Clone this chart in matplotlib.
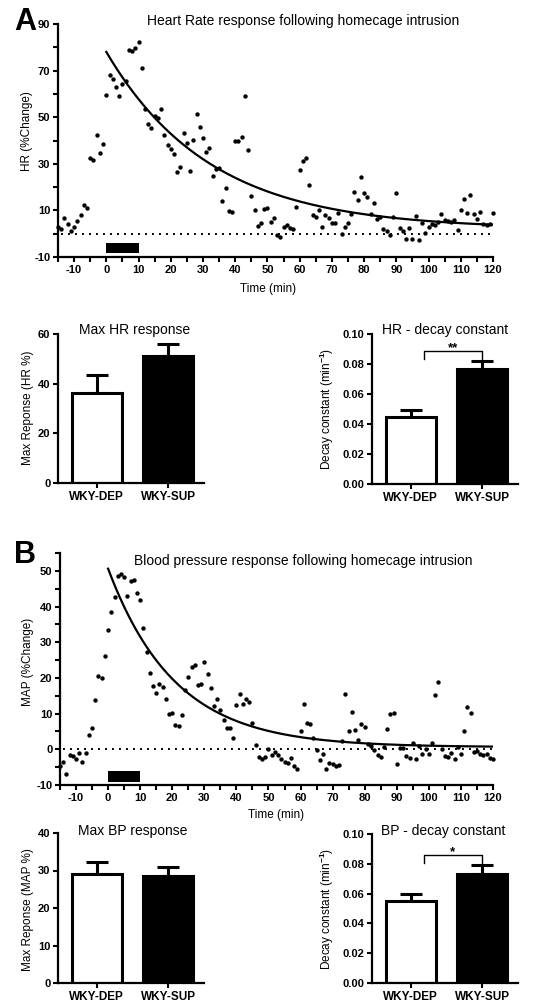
import numpy as np
import matplotlib
matplotlib.use('Agg')
import matplotlib.pyplot as plt
from matplotlib.ticker import MultipleLocator, FormatStrFormatter

plt.rcParams['font.family'] = ['Liberation Sans', 'DejaVu Sans']
plt.rcParams['font.weight'] = 'bold'
plt.rcParams['axes.unicode_minus'] = False
plt.rcParams['mathtext.fontset'] = 'custom'
plt.rcParams['mathtext.bf'] = 'Liberation Sans:bold'
plt.rcParams['mathtext.rm'] = 'Liberation Sans:bold'
plt.rcParams['mathtext.default'] = 'bf'

# time course, one sample per minute
time_min = np.arange(-15, 121)

hr_change = [2.9, 2.0, 6.8, 4.0, 1.3, 2.7, 5.3, 8.1, 12.4, 11.1, 32.4, 31.8, 42.3, 34.7, 38.6,
             59.4, 68.0, 66.5, 63.0, 59.1, 64.4, 65.4, 78.8, 78.5, 79.8, 82.4, 71.2, 53.6, 47.1, 45.4,
             50.4, 49.7, 53.5, 42.2, 38.2, 36.3, 34.2, 26.3, 28.8, 43.3, 39.0, 26.9, 40.4, 51.2, 46.0,
             40.9, 35.1, 36.7, 24.7, 27.8, 28.1, 14.1, 19.6, 9.8, 9.2, 39.9, 39.7, 41.3, 58.9, 36.0,
             16.3, 10.2, 3.5, 4.5, 10.4, 11.1, 5.0, 6.8, -0.7, -1.6, 2.9, 3.6, 2.6, 2.0, 11.4,
             27.3, 31.2, 32.4, 21.0, 7.9, 7.1, 10.1, 3.0, 8.2, 6.9, 4.7, 4.6, 8.8, -0.3, 2.9,
             4.5, 8.6, 17.7, 14.4, 24.5, 17.4, 15.8, 8.6, 13.1, 6.2, 7.3, 1.9, 1.0, -0.6, 7.2,
             17.3, 2.6, 1.3, -2.2, 2.6, -2.3, 7.6, -2.7, 4.5, 0.1, 3.0, 4.2, 3.6, 4.9, 8.6,
             5.9, 5.6, 4.9, 6.0, 1.4, 10.1, 14.7, 8.9, 16.5, 8.3, 6.5, 9.5, 4.3, 3.6, 4.2, 8.9]

map_change = [-4.7, -3.5, -6.9, -1.7, -1.9, -2.8, -0.9, -3.6, -1.0, 4.1, 6.0, 13.7, 20.5, 20.1, 26.1,
              33.5, 38.6, 42.6, 48.6, 49.1, 48.3, 42.9, 47.1, 47.5, 43.8, 41.8, 34.1, 27.3, 21.4, 17.7,
              15.8, 18.3, 17.5, 14.2, 10.0, 10.3, 6.9, 6.4, 9.5, 16.5, 20.2, 23.1, 23.5, 17.9, 18.3,
              24.6, 21.0, 17.1, 12.0, 14.1, 11.1, 8.1, 6.1, 6.1, 3.1, 12.3, 15.6, 12.7, 14.0, 13.3,
              7.5, 1.2, -2.2, -2.7, -2.2, 0.2, -1.7, -0.8, -1.7, -2.6, -3.5, -3.7, -2.3, -4.6, -5.6,
              5.0, 12.8, 7.3, 7.1, 3.2, -0.2, -3.0, -1.4, -5.4, -3.9, -4.2, -4.7, -4.4, 2.4, 15.6,
              5.2, 10.5, 5.4, 2.7, 7.1, 6.3, 1.5, 1.0, -0.1, -1.7, -2.2, 0.6, 5.7, 10.0, 10.3,
              -4.2, 0.5, 0.4, -1.8, -2.5, 1.7, -2.6, 0.8, -1.2, 0.1, -1.4, 1.9, 15.3, 18.9, 0.1,
              -1.8, -2.2, -0.9, -2.8, 0.6, -1.2, 5.2, 11.8, 10.3, -0.7, -0.4, -1.4, -1.7, -1.4, -2.3, -2.8]

# one-phase decay fits: plateau, span, rate constant
hr_fit = (2.0, 76.0, 0.031)
bp_fit = (0.6, 50.0, 0.048)
intrusion = (0, 10)

hr_yticks = [-10, 10, 30, 50, 70, 90]
bp_yticks = [-10, 0, 10, 20, 30, 40, 50]

groups = ['WKY-DEP', 'WKY-SUP']
hr_max = [36.2, 51.3]
hr_max_sem = [7.2, 4.7]
hr_k = [0.0446, 0.0766]
hr_k_sem = [0.0050, 0.0053]
bp_max = [29.0, 28.6]
bp_max_sem = [3.2, 2.3]
bp_k = [0.0550, 0.0729]
bp_k_sem = [0.0047, 0.0061]

W, H = 545, 1007
fig = plt.figure(figsize=(W / 100, H / 100), dpi=100)


def rect(l, r, t, b):
    return [l / W, 1 - b / H, (r - l) / W, (b - t) / H]


def style(ax):
    for s in ['top', 'right']:
        ax.spines[s].set_visible(False)
    for s in ['left', 'bottom']:
        ax.spines[s].set_linewidth(1.6)
    ax.tick_params(which='both', direction='out', length=3.5, width=1.5, labelsize=8, pad=2)


def time_panel(r, y, fit, ylim, yticks, ymin, ylabel, ylab_pos, xlab_pos, bar_y):
    ax = fig.add_axes(r)
    style(ax)
    ax.scatter(time_min, y, s=10, c='k', linewidths=0, clip_on=False, zorder=3)
    p, a, k = fit
    xf = np.linspace(0, 120, 300)
    ax.plot(xf, p + a * np.exp(-k * xf), color='k', lw=1.6)
    ax.plot([-14, 120], [0, 0], color='k', lw=1.4, ls=(0, (1, 2.6)))
    ax.broken_barh([(intrusion[0], intrusion[1] - intrusion[0])], (bar_y[0], bar_y[1] - bar_y[0]),
                   facecolor='k')
    ax.set_xlim(-15, 120)
    ax.set_ylim(*ylim)
    ax.xaxis.set_major_locator(MultipleLocator(10))
    ax.xaxis.set_minor_locator(MultipleLocator(5))
    ax.set_yticks(yticks)
    ax.yaxis.set_minor_locator(MultipleLocator(ymin))
    ax.set_xlabel('Time (min)', fontsize=8.5)
    ax.xaxis.set_label_coords(*xlab_pos)
    ax.set_ylabel(ylabel, fontsize=8.5)
    ax.yaxis.set_label_coords(*ylab_pos)
    return ax


def bar_panel(r, vals, sems, ylim, step, fmt, ylabel, ylab_pos, sig=None):
    ax = fig.add_axes(r)
    style(ax)
    xpos = np.arange(len(groups))
    ax.errorbar(xpos, vals, yerr=[np.zeros(len(vals)), sems], fmt='none', ecolor='k',
                elinewidth=2.2, capsize=8, capthick=2.2, zorder=1)
    ax.bar(xpos, vals, width=0.7, color=['white', 'black'], edgecolor='k', linewidth=2.2, zorder=2)
    ax.set_xlim(-0.54, 1.5)
    ax.set_ylim(*ylim)
    ax.yaxis.set_major_locator(MultipleLocator(step))
    ax.yaxis.set_major_formatter(FormatStrFormatter(fmt))
    ax.set_xticks(xpos)
    ax.set_xticklabels(groups, fontsize=8.5)
    ax.set_ylabel(ylabel, fontsize=8.5)
    ax.yaxis.set_label_coords(*ylab_pos)
    if sig:
        top = max(v + s for v, s in zip(vals, sems)) + 0.007
        x0, x1 = 0.18, 1.0
        ax.plot([x0, x0, x1, x1], [top - 0.0055, top, top, top - 0.0055], color='k', lw=1.0)
        ax.text((x0 + x1) / 2, top - 0.0003, sig, ha='center', va='baseline', fontsize=9.5)
    return ax


# ---- panel A
fig.text(14 / W, 1 - 7 / H, 'A', fontsize=22, fontweight='bold', va='top')
time_panel(rect(58, 493, 24, 257), hr_change, hr_fit, (-10, 90), hr_yticks, 10,
           'HR (%Change)', (-0.057, 0.54), (0.483, -0.112), (-8.4, -4.1))
fig.text(303 / W, 1 - 21 / H, 'Heart Rate response following homecage intrusion',
         fontsize=10, fontweight='normal', ha='center', va='center')

bar_panel(rect(58, 204, 334, 483), hr_max, hr_max_sem, (0, 60), 20, '%d',
          'Max Reponse (HR %)', (-0.164, 0.507))
fig.text(135 / W, 1 - 330 / H, 'Max HR response', fontsize=10, fontweight='normal',
         ha='center', va='center')
bar_panel(rect(372, 518, 334, 484), hr_k, hr_k_sem, (0, 0.10), 0.02, '%.2f',
          'Decay constant (min$^{-1}$)', (-0.247, 0.5), sig='**')
fig.text(445 / W, 1 - 330 / H, 'HR - decay constant', fontsize=10, fontweight='normal',
         ha='center', va='center')

# ---- panel B
fig.text(14 / W, 1 - 540 / H, 'B', fontsize=22, fontweight='bold', va='top')
time_panel(rect(60, 493, 553, 785), map_change, bp_fit, (-10, 55), bp_yticks, 5,
           'MAP (%Change)', (-0.06, 0.53), (0.5, -0.103), (-9.1, -6.1))
fig.text(303 / W, 1 - 561 / H, 'Blood pressure response following homecage intrusion',
         fontsize=10, fontweight='normal', ha='center', va='center')

bar_panel(rect(58, 204, 833, 983), bp_max, bp_max_sem, (0, 40), 10, '%d',
          'Max Reponse (MAP %)', (-0.164, 0.49))
fig.text(133 / W, 1 - 831 / H, 'Max BP response', fontsize=10, fontweight='normal',
         ha='center', va='center')
bar_panel(rect(372, 518, 834, 983), bp_k, bp_k_sem, (0, 0.10), 0.02, '%.2f',
          'Decay constant (min$^{-1}$)', (-0.247, 0.5), sig='*')
fig.text(443 / W, 1 - 831 / H, 'BP - decay constant', fontsize=10, fontweight='normal',
         ha='center', va='center')

fig.savefig('out.png', dpi=100)
